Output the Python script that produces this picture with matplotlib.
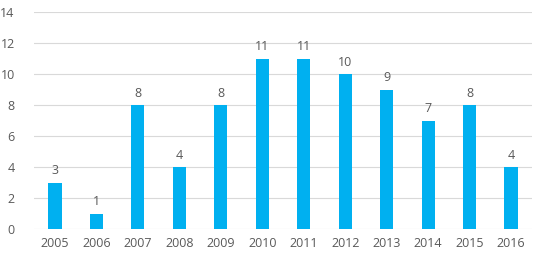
import matplotlib.pyplot as plt

years = ['2005', '2006', '2007', '2008', '2009', '2010', '2011', '2012', '2013', '2014', '2015', '2016']
counts = [3, 1, 8, 4, 8, 11, 11, 10, 9, 7, 8, 4]

plt.rcParams['font.family'] = ['Open Sans', 'DejaVu Sans']
text_color = '#595959'

fig = plt.figure(figsize=(5.34, 2.63), dpi=100)
ax = fig.add_axes([0.064, 0.129, 0.932, 0.825])

x = list(range(len(years)))
bars = ax.bar(x, counts, width=0.32, color='#00B0F0', zorder=3)
for xi, c in zip(x, counts):
    ax.text(xi, c + 0.35, str(c), ha='center', va='bottom', fontsize=9, color=text_color)

ax.set_xlim(-0.5, len(years) - 0.5)
ax.set_ylim(0, 14)
ax.set_yticks(range(0, 15, 2))
ax.set_xticks(x)
ax.set_xticklabels(years)
ax.grid(axis='y', color='#D9D9D9', linewidth=0.8, zorder=0)
for s in ax.spines.values():
    s.set_visible(False)
ax.tick_params(length=0, labelsize=9, labelcolor=text_color)
ax.tick_params(axis='x', pad=6)
ax.tick_params(axis='y', pad=14)

fig.savefig('out.png', dpi=100)
